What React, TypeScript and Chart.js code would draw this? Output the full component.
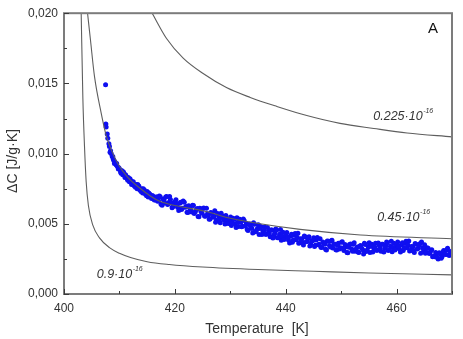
import React, { useEffect, useRef } from 'react';
import { Chart, registerables } from 'chart.js';

Chart.register(...registerables);

// ---- data ----
const xMajorTicks = [400, 420, 440, 460];
const xMinorTicks = [410, 430, 450, 470];
const yMajorTicks = [0, 0.005, 0.01, 0.015, 0.02];
const yMinorTicks = [0.0025, 0.0075, 0.0125, 0.0175];

// model curves: [T (K), deltaC (J/g.K)]
const curve0225: [number, number][] = [
  [415.9, 0.0200], [418.5, 0.0182], [421.5, 0.0168], [425.1, 0.0157], [429.3, 0.0147],
  [433.6, 0.0140], [438.4, 0.01336], [443.8, 0.01271], [449.8, 0.01215], [455.9, 0.01179],
  [461.9, 0.01147], [470.0, 0.01119],
];
const curve045: [number, number][] = [
  [404.25, 0.0200], [404.8, 0.0180], [405.5, 0.0155], [406.7, 0.0129], [407.6, 0.0113],
  [408.5, 0.0103], [409.7, 0.0093], [411.5, 0.0083], [413.5, 0.0076], [415.5, 0.0070],
  [417.3, 0.0066], [420.0, 0.0063], [425.4, 0.0059], [430.0, 0.0054], [435.4, 0.0050],
  [442.6, 0.0046], [453.5, 0.0042], [470.0, 0.00393],
];
const curve09: [number, number][] = [
  [403.1, 0.0200], [403.4, 0.0140], [403.7, 0.0105], [404.0, 0.0080], [404.4, 0.0063],
  [405.2, 0.0049], [406.4, 0.0040], [408.2, 0.0033], [410.0, 0.0029], [412.0, 0.0026],
  [415.0, 0.0023], [419.0, 0.0021], [425.0, 0.00192], [435.0, 0.00174], [445.0, 0.00162],
  [455.0, 0.00150], [470.0, 0.00136],
];
const curveCoefs = ['0.225', '0.45', '0.9'];
const curveLabelAnchors: [number, number][] = [[455.8, 0.01237], [456.5, 0.00522], [405.9, 0.00114]];

// measured points: [T (K), deltaC (J/g.K)]
const measured: [number, number][] = [
  [407.5, 0.0149], [407.55, 0.0121], [407.6, 0.0119], [407.8, 0.0114], [407.9, 0.0111],
  [408.1, 0.0107], [408.2, 0.0105], [408.4, 0.0102], [408.5, 0.0100], [408.7, 0.0098],
  [408.9, 0.0096], [409.0, 0.0095], [409.2, 0.0094], [409.4, 0.0092], [409.6, 0.0091],
  [409.8, 0.0089], [410.0, 0.0089], [410.2, 0.0087], [410.4, 0.0088], [410.6, 0.0085],
  [410.8, 0.0086], [411.0, 0.0083], [411.2, 0.0084], [411.4, 0.0082], [411.6, 0.0083],
  [411.8, 0.0080], [412.0, 0.0081], [412.2, 0.0078], [412.5, 0.0080], [412.7, 0.0077],
  [413.0, 0.0078], [413.2, 0.0075], [413.5, 0.0077], [413.7, 0.0074], [414.0, 0.0075],
  [414.2, 0.0072], [414.5, 0.0074], [414.7, 0.0071], [415.0, 0.0073], [415.2, 0.0069],
  [415.5, 0.0071], [415.8, 0.0068], [416.0, 0.0070], [416.3, 0.0067], [416.6, 0.0069],
  [416.9, 0.0066],
  [417.2, 0.00698], [417.5, 0.00640], [417.9, 0.00676], [418.2, 0.00648], [418.5, 0.00695],
  [418.9, 0.00651], [419.2, 0.00673], [419.5, 0.00615], [419.9, 0.00651], [420.2, 0.00672],
  [420.5, 0.00618], [420.9, 0.00647], [421.2, 0.00602], [421.5, 0.00663], [421.9, 0.00617],
  [422.2, 0.00582], [422.5, 0.00628], [422.9, 0.00594], [423.2, 0.00632], [423.5, 0.00573],
  [423.9, 0.00602], [424.2, 0.00552], [424.5, 0.00610], [424.9, 0.00576], [425.2, 0.00612],
  [425.5, 0.00553], [425.9, 0.00572], [426.2, 0.00532], [426.5, 0.00580], [426.9, 0.00546],
  [427.2, 0.00593], [427.5, 0.00525], [427.9, 0.00556], [428.2, 0.00507], [428.5, 0.00558],
  [428.9, 0.00527], [429.2, 0.00559], [429.5, 0.00505], [429.9, 0.00526], [430.2, 0.00488],
  [430.5, 0.00540], [430.9, 0.00501], [431.2, 0.00543], [431.5, 0.00480], [431.9, 0.00511],
  [432.2, 0.00482], [432.5, 0.00523], [432.9, 0.00502], [433.2, 0.00453], [433.5, 0.00498],
  [433.9, 0.00466], [434.2, 0.00508], [434.5, 0.00444], [434.9, 0.00467], [435.2, 0.00423],
  [435.5, 0.00480], [435.9, 0.00446], [436.2, 0.00478], [436.5, 0.00425], [436.9, 0.00451],
  [437.2, 0.00408], [437.5, 0.00455], [437.9, 0.00421], [438.2, 0.00463], [438.5, 0.00400],
  [438.9, 0.00426], [439.2, 0.00383], [439.5, 0.00440], [439.9, 0.00406], [440.2, 0.00438],
  [440.5, 0.00385], [440.9, 0.00411], [441.2, 0.00369], [441.5, 0.00418], [441.9, 0.00386],
  [442.2, 0.00433], [442.5, 0.00365], [442.9, 0.00391], [443.2, 0.00349], [443.5, 0.00408],
  [443.9, 0.00376], [444.2, 0.00408], [444.5, 0.00355], [444.9, 0.00381], [445.2, 0.00338],
  [445.5, 0.00385], [445.9, 0.00351], [446.2, 0.00394], [446.5, 0.00332], [446.9, 0.00361],
  [447.2, 0.00319], [447.5, 0.00377], [447.9, 0.00345], [448.2, 0.00379], [448.5, 0.00327],
  [448.9, 0.00355], [449.2, 0.00314], [449.5, 0.00362], [449.9, 0.00330], [450.2, 0.00373],
  [450.5, 0.00310], [450.9, 0.00336], [451.2, 0.00294], [451.5, 0.00353], [451.9, 0.00321],
  [452.2, 0.00355], [452.5, 0.00305], [452.9, 0.00335], [453.2, 0.00295], [453.5, 0.00345],
  [453.9, 0.00315], [454.2, 0.00361], [454.5, 0.00302], [454.9, 0.00334], [455.2, 0.00295],
  [455.5, 0.00355], [455.9, 0.00325], [456.2, 0.00361], [456.5, 0.00312], [456.9, 0.00344],
  [457.2, 0.00305], [457.5, 0.00355], [457.9, 0.00325], [458.2, 0.00370], [458.5, 0.00310],
  [458.9, 0.00340], [459.2, 0.00301], [459.5, 0.00362], [459.9, 0.00334], [460.2, 0.00370],
  [460.5, 0.00320], [460.9, 0.00350], [461.2, 0.00310], [461.5, 0.00360], [461.9, 0.00330],
  [462.2, 0.00378], [462.5, 0.00310], [462.9, 0.00337], [463.2, 0.00295], [463.5, 0.00355],
  [463.9, 0.00325], [464.2, 0.00358], [464.5, 0.00370], [464.9, 0.00312], [465.2, 0.00290],
  [465.5, 0.00330], [465.9, 0.00288], [466.2, 0.00310], [466.5, 0.00265], [466.9, 0.00265],
  [467.2, 0.00285], [467.5, 0.00250], [467.9, 0.00285], [468.2, 0.00265], [468.5, 0.00310],
  [468.9, 0.00282], [469.2, 0.00325], [469.5, 0.00275], [469.9, 0.00295],
];

// more measured points read between the ones above
const measuredMore: [number, number][] = [
  [408.3, 0.0101], [408.8, 0.0098], [409.1, 0.0093], [409.5, 0.0093], [409.9, 0.0090],
  [410.3, 0.0086], [410.7, 0.0087], [411.1, 0.0085], [411.5, 0.0081], [411.9, 0.0082],
  [412.3, 0.0080], [412.6, 0.0078], [412.9, 0.0076], [413.3, 0.0078], [413.6, 0.0075],
  [413.9, 0.0073], [414.3, 0.0075], [414.6, 0.0072], [414.9, 0.0070], [415.3, 0.0072],
  [415.6, 0.0069], [415.9, 0.0070], [416.2, 0.0068], [416.5, 0.0067], [416.8, 0.0069],
  [417.05, 0.00664], [417.35, 0.00692], [417.7, 0.00633], [418.05, 0.00670], [418.35, 0.00691],
  [418.7, 0.00638], [419.05, 0.00695], [419.35, 0.00646], [419.7, 0.00623], [420.05, 0.00659],
  [420.35, 0.00640], [420.7, 0.00594], [421.05, 0.00654], [421.35, 0.00610], [421.7, 0.00654],
  [422.05, 0.00624], [422.35, 0.00580], [422.7, 0.00612], [423.05, 0.00584], [423.35, 0.00630],
  [423.7, 0.00585], [424.05, 0.00609], [424.35, 0.00550], [424.7, 0.00588], [425.05, 0.00609],
  [425.35, 0.00555], [425.7, 0.00610], [426.05, 0.00559], [426.35, 0.00535], [426.7, 0.00573],
  [427.05, 0.00554], [427.35, 0.00511], [427.7, 0.00573], [428.05, 0.00529], [428.35, 0.00575],
  [428.7, 0.00545], [429.05, 0.00499], [429.35, 0.00532], [429.7, 0.00503], [430.05, 0.00549],
  [430.35, 0.00506], [430.7, 0.00533], [431.05, 0.00474], [431.35, 0.00511], [431.7, 0.00533],
  [432.05, 0.00479], [432.35, 0.00535], [432.7, 0.00485], [433.05, 0.00459], [433.35, 0.00495],
  [433.7, 0.00477], [434.05, 0.00434], [434.35, 0.00496], [434.7, 0.00450], [435.05, 0.00494],
  [435.35, 0.00466], [435.7, 0.00423], [436.05, 0.00454], [436.35, 0.00426], [436.7, 0.00473],
  [437.05, 0.00429], [437.35, 0.00456], [437.7, 0.00398], [438.05, 0.00434], [438.35, 0.00456],
  [438.7, 0.00403], [439.05, 0.00459], [439.35, 0.00411], [439.7, 0.00388], [440.05, 0.00424],
  [440.35, 0.00406], [440.7, 0.00363], [441.05, 0.00425], [441.35, 0.00383], [441.7, 0.00431],
  [442.05, 0.00404], [442.35, 0.00362], [442.7, 0.00393], [443.05, 0.00365], [443.35, 0.00413],
  [443.7, 0.00372], [444.05, 0.00399], [444.35, 0.00342], [444.7, 0.00378], [445.05, 0.00400],
  [445.35, 0.00347], [445.7, 0.00403], [446.05, 0.00355], [446.35, 0.00333], [446.7, 0.00371],
  [447.05, 0.00355], [447.35, 0.00313], [447.7, 0.00376], [448.05, 0.00335], [448.35, 0.00383],
  [448.7, 0.00356], [449.05, 0.00315], [449.35, 0.00348], [449.7, 0.00321], [450.05, 0.00369],
  [450.35, 0.00326], [450.7, 0.00353], [451.05, 0.00295], [451.35, 0.00333], [451.7, 0.00357],
  [452.05, 0.00305], [452.35, 0.00365], [452.7, 0.00320], [453.05, 0.00300], [453.35, 0.00340],
  [453.7, 0.00325], [454.05, 0.00285], [454.35, 0.00352], [454.7, 0.00313], [455.05, 0.00365],
  [455.35, 0.00340], [455.7, 0.00300], [456.05, 0.00335], [456.35, 0.00312], [456.7, 0.00363],
  [457.05, 0.00325], [457.35, 0.00355], [457.7, 0.00300], [458.05, 0.00340], [458.35, 0.00365],
  [458.7, 0.00315], [459.05, 0.00375], [459.35, 0.00331], [459.7, 0.00313], [460.05, 0.00355],
  [460.35, 0.00340], [460.7, 0.00300], [461.05, 0.00365], [461.35, 0.00325], [461.7, 0.00375],
  [462.05, 0.00349], [462.35, 0.00306], [462.7, 0.00338], [463.05, 0.00310], [463.35, 0.00360],
  [463.7, 0.00320], [464.05, 0.00349], [464.35, 0.00291], [464.7, 0.00328], [465.05, 0.00350],
  [465.35, 0.00297], [465.7, 0.00326], [466.05, 0.00293], [466.35, 0.00315], [466.7, 0.00268],
  [467.05, 0.00295], [467.35, 0.00260], [467.7, 0.00293], [468.05, 0.00255], [468.35, 0.00298],
  [468.7, 0.00284], [469.05, 0.00315], [469.35, 0.00280], [469.7, 0.00302],
];

const FONT = "'Liberation Sans', Arial, sans-serif";

const toXY = (arr: [number, number][]) => arr.map(([x, y]) => ({ x, y }));

const overlayPlugin = {
  id: 'overlay',
  afterDraw(chart: any) {
    const { ctx, chartArea: a, scales } = chart;
    const xs = scales.x;
    const ys = scales.y;
    ctx.save();
    // frame
    ctx.strokeStyle = '#7c7c7c';
    ctx.lineWidth = 2;
    ctx.strokeRect(a.left, a.top, a.right - a.left, a.bottom - a.top);
    // inward ticks
    ctx.strokeStyle = '#3a3a3a';
    ctx.lineWidth = 1;
    ctx.beginPath();
    yMajorTicks.forEach((v) => {
      const py = Math.round(ys.getPixelForValue(v)) + 0.5;
      ctx.moveTo(a.left, py);
      ctx.lineTo(a.left + 5, py);
    });
    yMinorTicks.forEach((v) => {
      const py = Math.round(ys.getPixelForValue(v)) + 0.5;
      ctx.moveTo(a.left, py);
      ctx.lineTo(a.left + 3, py);
    });
    xMajorTicks.forEach((v) => {
      const px = Math.round(xs.getPixelForValue(v)) + 0.5;
      ctx.moveTo(px, a.bottom);
      ctx.lineTo(px, a.bottom - 5);
    });
    xMinorTicks.forEach((v) => {
      const px = Math.round(xs.getPixelForValue(v)) + 0.5;
      ctx.moveTo(px, a.bottom);
      ctx.lineTo(px, a.bottom - 3);
    });
    ctx.stroke();

    // curve labels
    ctx.fillStyle = '#333';
    ctx.textAlign = 'left';
    ctx.textBaseline = 'alphabetic';
    curveCoefs.forEach((c, i) => {
      const [tx, ty] = curveLabelAnchors[i];
      const px = xs.getPixelForValue(tx);
      const py = ys.getPixelForValue(ty);
      ctx.font = `italic 12.5px ${FONT}`;
      const base = `${c}\u00B710`;
      ctx.fillText(base, px, py);
      const w = ctx.measureText(base).width;
      ctx.font = `italic 7px ${FONT}`;
      ctx.fillText('-16', px + w + 0.5, py - 7);
    });

    // panel letter
    ctx.font = `15px ${FONT}`;
    ctx.fillStyle = '#111';
    ctx.fillText('A', 428, 33);

    // axis titles
    ctx.fillStyle = '#333';
    ctx.font = `14px ${FONT}`;
    ctx.textAlign = 'center';
    ctx.fillText('Temperature  [K]', 257, 333);
    ctx.translate(13, 161);
    ctx.rotate(-Math.PI / 2);
    ctx.textBaseline = 'middle';
    ctx.fillText('\u0394C [J/g\u00B7K]', 0, 0);
    ctx.restore();
  },
};

export default function App() {
  const ref = useRef<HTMLCanvasElement | null>(null);
  useEffect(() => {
    if (!ref.current) return;
    const lineDs = (arr: [number, number][]) => ({
      type: 'line' as const,
      data: toXY(arr),
      borderColor: '#5e5e5e',
      borderWidth: 1.1,
      pointRadius: 0,
      showLine: true,
      fill: false,
      cubicInterpolationMode: 'monotone' as const,
    });
    const chart = new Chart(ref.current, {
      type: 'scatter',
      data: {
        datasets: [
          lineDs(curve0225),
          lineDs(curve045),
          lineDs(curve09),
          {
            type: 'scatter',
            data: toXY(measured.concat(measuredMore)),
            backgroundColor: 'rgb(15,15,240)',
            borderWidth: 0,
            pointRadius: 2.5,
          } as any,
        ],
      },
      options: {
        responsive: false,
        animation: false,
        devicePixelRatio: 1,
        layout: { padding: { left: 0, top: 10, right: 11, bottom: 0 } },
        plugins: { legend: { display: false }, tooltip: { enabled: false } },
        scales: {
          x: {
            type: 'linear',
            min: 400,
            max: 470,
            grid: { display: false, drawTicks: false },
            border: { display: false },
            ticks: {
              stepSize: 20,
              includeBounds: false,
              padding: 7,
              color: '#333',
              font: { family: FONT, size: 12 },
              callback: (v: any) => String(v),
              maxRotation: 0,
            },
            afterFit: (s: any) => { s.height = 45; },
          },
          y: {
            type: 'linear',
            min: 0,
            max: 0.02,
            grid: { display: false, drawTicks: false },
            border: { display: false },
            ticks: {
              stepSize: 0.005,
              padding: 6,
              color: '#333',
              font: { family: FONT, size: 12 },
              callback: (v: any) => Number(v).toFixed(3).replace('.', ','),
            },
            afterFit: (s: any) => { s.width = 64; },
          },
        },
      },
      plugins: [overlayPlugin],
    });
    return () => chart.destroy();
  }, []);
  return (
    <div style={{ position: 'fixed', left: 0, top: 0, width: 463, height: 339, background: '#fff' }}>
      <canvas ref={ref} width={463} height={339} style={{ display: 'block' }} />
    </div>
  );
}
